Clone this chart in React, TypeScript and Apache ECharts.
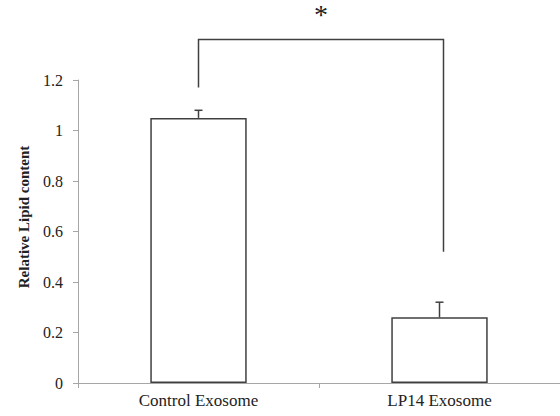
import React, { useEffect, useRef } from "react";
import * as echarts from "echarts";

const categories = ["Control Exosome", "LP14 Exosome"];
const values = [1.05, 0.26];
const errors = [0.03, 0.06];
const yMin = 0;
const yMax = 1.2;
const yInterval = 0.2;
const yAxisTitle = "Relative Lipid content";
// significance bracket: left foot, top, right foot (data units)
const bracketLeft = 1.17;
const bracketTop = 1.36;
const bracketRight = 0.52;
const sigLabel = "*";
const sigY = 1.46;

const FONT = "Liberation Serif";

export default function App() {
  const ref = useRef<HTMLDivElement>(null);
  useEffect(() => {
    if (!ref.current) return;
    const chart = echarts.init(ref.current, undefined, { renderer: "svg" });
    chart.setOption({
      animation: false,
      grid: { left: 78, right: 0, top: 80, bottom: 33 },
      xAxis: {
        type: "category",
        data: categories,
        axisLine: { lineStyle: { color: "#a6a6a6", width: 1 } },
        axisTick: { show: true, length: 5, lineStyle: { color: "#a6a6a6" } },
        axisLabel: { fontFamily: FONT, fontSize: 17, color: "#222", margin: 9 },
      },
      yAxis: {
        type: "value",
        min: yMin,
        max: yMax,
        interval: yInterval,
        axisLine: { show: true, lineStyle: { color: "#a6a6a6", width: 1 } },
        axisTick: { show: true, length: 5, lineStyle: { color: "#a6a6a6" } },
        splitLine: { show: false },
        axisLabel: { fontFamily: FONT, fontSize: 16, color: "#222", margin: 15 },
      },
      graphic: [
        {
          type: "text",
          x: 24,
          y: 217,
          rotation: Math.PI / 2,
          style: {
            text: yAxisTitle,
            fontFamily: FONT,
            fontSize: 15,
            fontWeight: "bold",
            fill: "#222",
            textAlign: "center",
            textVerticalAlign: "middle",
          },
        },
      ],
      series: [
        {
          type: "bar",
          data: values,
          barWidth: "40%",
          itemStyle: { color: "#ffffff", borderColor: "#404040", borderWidth: 1.5 },
          z: 2,
        },
        {
          type: "custom",
          z: 3,
          clip: false,
          data: categories.map((_, i) => [i, values[i], errors[i]]),
          renderItem: (params: any, api: any) => {
            const x = api.value(0);
            const v = api.value(1);
            const e = api.value(2);
            const base = api.coord([x, v]);
            const top = api.coord([x, v + e]);
            const st = { stroke: "#404040", lineWidth: 1.5 };
            return {
              type: "group",
              children: [
                { type: "line", shape: { x1: base[0], y1: base[1], x2: top[0], y2: top[1] }, style: st },
                { type: "line", shape: { x1: top[0] - 4, y1: top[1], x2: top[0] + 4, y2: top[1] }, style: st },
              ],
            };
          },
        },
        {
          type: "custom",
          z: 3,
          clip: false,
          data: [[0, 1, bracketLeft, bracketTop, bracketRight]],
          renderItem: (params: any, api: any) => {
            const i0 = api.value(0);
            const i1 = api.value(1);
            const l = api.value(2);
            const t = api.value(3);
            const r = api.value(4);
            const p0 = api.coord([i0, l]);
            const p0t = api.coord([i0, t]);
            const p1t = api.coord([i1, t]);
            const p1 = api.coord([i1, r]);
            const s = api.coord([i0, sigY]);
            const dx = 4;
            return {
              type: "group",
              children: [
                {
                  type: "polyline",
                  shape: {
                    points: [
                      [p0[0], p0[1]],
                      [p0t[0], p0t[1]],
                      [p1t[0] + dx, p1t[1]],
                      [p1[0] + dx, p1[1]],
                    ],
                  },
                  style: { stroke: "#404040", lineWidth: 1.5, fill: null },
                },
                {
                  type: "text",
                  x: (p0[0] + p1[0]) / 2 + 2,
                  y: s[1],
                  style: {
                    text: sigLabel,
                    fontFamily: FONT,
                    fontSize: 28,
                    fill: "#222",
                    textAlign: "center",
                    textVerticalAlign: "middle",
                  },
                },
              ],
            };
          },
        },
      ],
    });
    return () => chart.dispose();
  }, []);
  return (
    <div
      ref={ref}
      style={{ position: "fixed", left: 0, top: 0, width: 560, height: 416, background: "#fff" }}
    />
  );
}
